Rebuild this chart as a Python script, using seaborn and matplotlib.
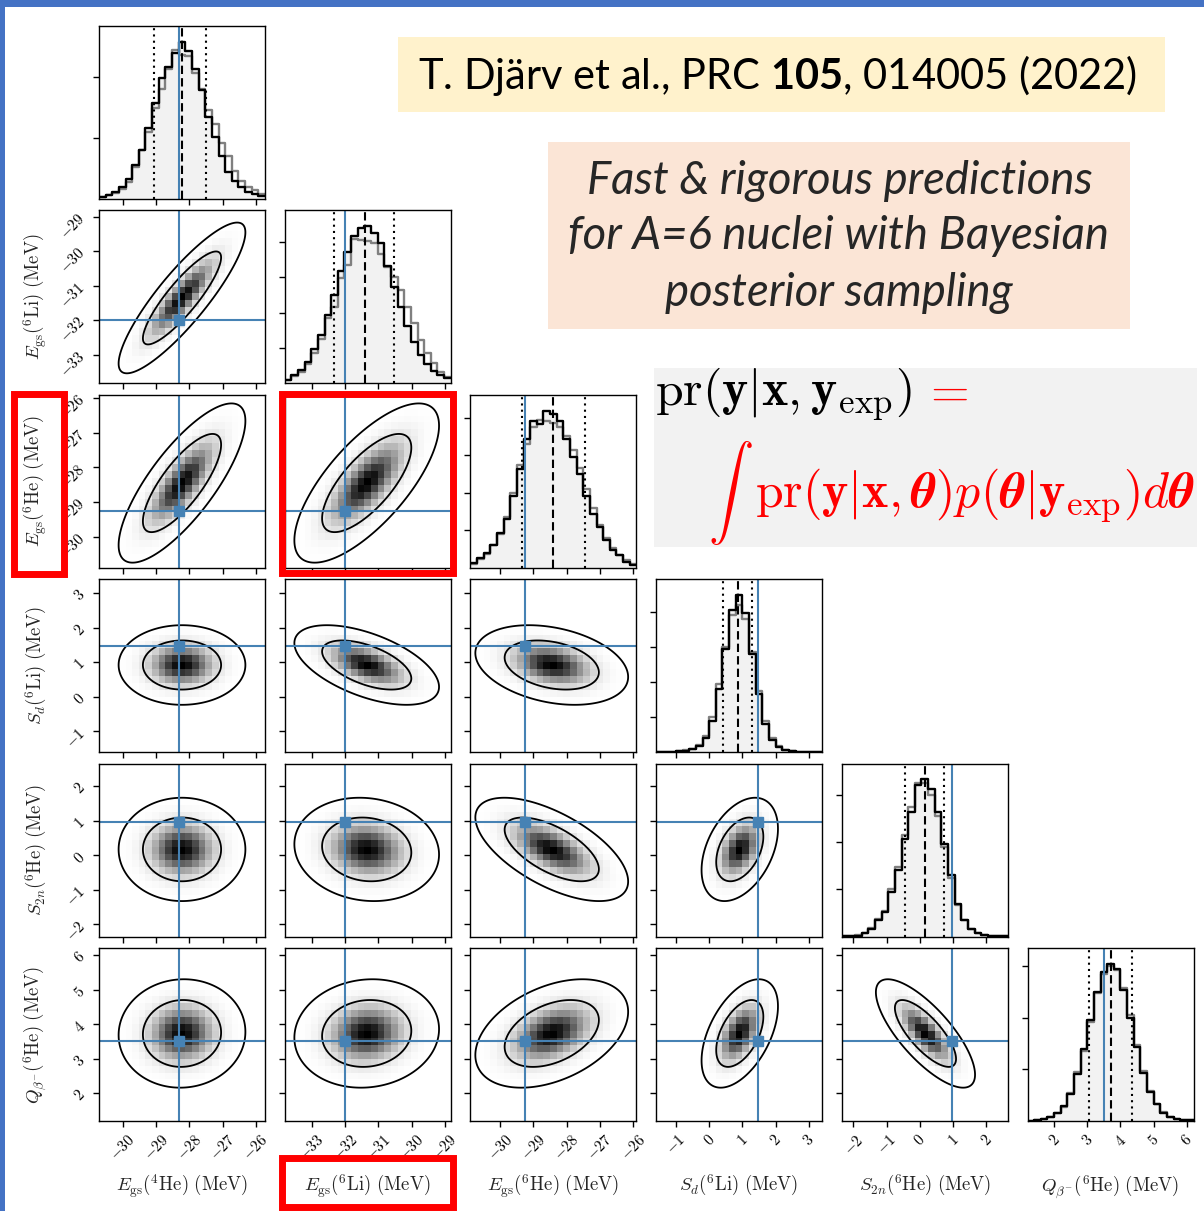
import numpy as np
import pandas as pd
import matplotlib
matplotlib.use("Agg")
import matplotlib.pyplot as plt
import seaborn as sns
from matplotlib.patches import Rectangle
from matplotlib.ticker import MaxNLocator, NullFormatter
from matplotlib.mathtext import MathTextParser

# ------------------------------------------------------------------ data
var_labels = [
    r"$E_{\rm gs}(^{4}\mathrm{He})\ (\mathrm{MeV})$",
    r"$E_{\rm gs}(^{6}\mathrm{Li})\ (\mathrm{MeV})$",
    r"$E_{\rm gs}(^{6}\mathrm{He})\ (\mathrm{MeV})$",
    r"$S_{d}(^{6}\mathrm{Li})\ (\mathrm{MeV})$",
    r"$S_{2n}(^{6}\mathrm{He})\ (\mathrm{MeV})$",
    r"$Q_{\beta^{-}}(^{6}\mathrm{He})\ (\mathrm{MeV})$",
]
axis_ranges = [(-30.72, -25.72), (-33.82, -28.82), (-30.9, -25.9),
               (-1.6, 3.4), (-2.35, 2.65), (1.2, 6.2)]
tick_values = [[-30, -29, -28, -27, -26], [-33, -32, -31, -30, -29],
               [-30, -29, -28, -27, -26], [-1, 0, 1, 2, 3],
               [-2, -1, 0, 1, 2], [2, 3, 4, 5, 6]]
exp_values = [-28.296, -31.994, -29.268, 1.474, 0.975, 3.505]
q16 = [-29.05, -32.35, -29.34, 0.43, -0.44, 3.06]
q50 = [-28.23, -31.41, -28.42, 0.88, 0.16, 3.71]
q84 = [-27.51, -30.54, -27.46, 1.30, 0.73, 4.35]

hist_black_Egs4He = [80, 140, 220, 380, 640, 1100, 1600, 2340, 3160, 3980, 4340, 4800, 5160,
                     4840, 4260, 3560, 2700, 2020, 1420, 900, 600, 380, 240, 160, 100]
hist_gray_Egs4He = [60, 120, 200, 340, 560, 1040, 1600, 2200, 3000, 3600, 4260, 4880, 4720,
                    4680, 4140, 3600, 2920, 2460, 1840, 1420, 920, 600, 400, 280, 160]
hist_black_Egs6Li = [110, 230, 380, 610, 960, 1370, 1940, 2500, 3160, 3700, 4150, 4390, 4440,
                     4250, 3970, 3320, 2720, 2150, 1620, 1180, 800, 550, 350, 240, 140]
hist_gray_Egs6Li = [100, 200, 330, 550, 850, 1250, 1850, 2170, 2970, 3350, 4080, 4060, 4010,
                    3970, 3640, 3300, 3000, 2640, 2150, 1700, 1230, 850, 590, 330, 190]
hist_black_Egs6He = [130, 270, 400, 620, 940, 1290, 1900, 2630, 3430, 3920, 3840, 4190, 4110,
                     3920, 3430, 2950, 2500, 1900, 1420, 1100, 750, 480, 350, 160, 80]
hist_gray_Egs6He = [110, 240, 380, 600, 900, 1350, 2000, 2750, 3300, 3750, 3950, 3900, 3850,
                    3750, 3500, 3150, 2650, 2100, 1600, 1150, 800, 520, 330, 200, 100]
hist_black_Sd = [5, 10, 20, 40, 80, 160, 350, 800, 1800, 3600, 5900, 8100, 8950,
                 7900, 5600, 3300, 1600, 700, 300, 130, 60, 25, 12, 6, 3]
hist_gray_Sd = [5, 10, 25, 50, 100, 200, 420, 900, 2000, 3900, 6000, 7800, 8400,
                7600, 5700, 3500, 1750, 800, 330, 140, 60, 25, 12, 6, 3]
hist_black_S2n = [5, 15, 40, 140, 330, 710, 1040, 1890, 2810, 4160, 5290, 6430, 6670,
                  6240, 5290, 3940, 2600, 1390, 710, 330, 140, 70, 40, 15, 5]
hist_gray_S2n = [5, 20, 50, 160, 360, 760, 1100, 2000, 2950, 4300, 5500, 6500, 6500,
                 6000, 5100, 3800, 2500, 1350, 700, 330, 150, 70, 40, 15, 5]
hist_black_Qb = [10, 20, 60, 160, 320, 580, 1040, 1820, 2780, 3900, 5000, 5780, 6100,
                 5900, 5100, 4000, 2860, 1880, 1140, 640, 320, 160, 80, 40, 20]
hist_gray_Qb = [10, 20, 60, 150, 300, 560, 1080, 1900, 2700, 3850, 4950, 5700, 6000,
                5850, 5150, 4100, 2950, 1950, 1150, 650, 330, 160, 80, 40, 20]

hists_black = [hist_black_Egs4He, hist_black_Egs6Li, hist_black_Egs6He,
               hist_black_Sd, hist_black_S2n, hist_black_Qb]
hists_gray = [hist_gray_Egs4He, hist_gray_Egs6Li, hist_gray_Egs6He,
              hist_gray_Sd, hist_gray_S2n, hist_gray_Qb]

# 2D posterior summaries (centre, width, correlation)
centre_2d = [-28.22, -31.35, -28.45, 0.92, 0.17, 3.73]
sigma_2d = [0.78, 0.89, 0.94, 0.47, 0.61, 0.64]
corr_2d = {
    (1, 0): 0.87,
    (2, 0): 0.78, (2, 1): 0.72,
    (3, 0): 0.0, (3, 1): -0.55, (3, 2): -0.30,
    (4, 0): 0.0, (4, 1): -0.10, (4, 2): -0.62, (4, 3): 0.40,
    (5, 0): 0.03, (5, 1): 0.08, (5, 2): 0.40, (5, 3): 0.50, (5, 4): -0.76,
}
contour_mass = [0.68, 0.95]
n_bins = 25

# ------------------------------------------------------------------ style
sns.set_style("ticks")
plt.rcParams.update({
    "font.family": ["DejaVu Serif"],
    "mathtext.fontset": "cm",
    "mathtext.rm": "Lato",
    "mathtext.it": "Lato:italic",
    "mathtext.bf": "Lato:bold",
    "axes.linewidth": 1.0,
    "axes.edgecolor": "black",
    "xtick.direction": "out",
    "ytick.direction": "out",
    "xtick.major.size": 4.5,
    "ytick.major.size": 4.5,
    "xtick.major.width": 1.0,
    "ytick.major.width": 1.0,
    "xtick.color": "black",
    "ytick.color": "black",
})

TRUTH = "#4682b4"
W, H = 1204, 1211
fig = plt.figure(figsize=(W / 100, H / 100), dpi=100)
fig.patch.set_facecolor("white")


def fx(x):
    return x / W


def fy(y):
    return 1 - y / H


COL_LEFT = [99 + 185.7 * j for j in range(6)]
ROW_TOP = [26 + 184.4 * i for i in range(6)]
AW, AH = 166, 173


def make_ax(i, j):
    return fig.add_axes([fx(COL_LEFT[j]), fy(ROW_TOP[i] + AH), AW / W, AH / H])


def style_ticks(ax, i, j, diag=False):
    ax.set_xlim(axis_ranges[j])
    ax.set_xticks(tick_values[j])
    if i == 5:
        ax.set_xticklabels([f"${t}$" for t in tick_values[j]], rotation=45,
                           fontsize=11)
        ax.set_xlabel(var_labels[j], fontsize=13.5)
        ax.xaxis.set_label_coords(0.5, -0.3)
    else:
        ax.xaxis.set_major_formatter(NullFormatter())
        ax.set_xlabel("")
    if diag:
        ax.yaxis.set_major_locator(MaxNLocator(5, steps=[1, 2, 2.5, 5, 10],
                                               prune="lower"))
        ax.yaxis.set_major_formatter(NullFormatter())
        ax.set_ylabel("")
    else:
        ax.set_ylim(axis_ranges[i])
        ax.set_yticks(tick_values[i])
        if j == 0:
            ax.set_yticklabels([f"${t}$" for t in tick_values[i]], rotation=45,
                               fontsize=11)
            ax.set_ylabel(var_labels[i], fontsize=13.5)
            ax.yaxis.set_label_coords(-0.3, 0.5)
        else:
            ax.yaxis.set_major_formatter(NullFormatter())
            ax.set_ylabel("")
    for s in ax.spines.values():
        s.set_visible(True)
        s.set_linewidth(1.0)


levels_r = [np.sqrt(-2 * np.log(1 - p)) for p in contour_mass]

for i in range(6):
    for j in range(i + 1):
        ax = make_ax(i, j)
        if i == j:
            lo, hi = axis_ranges[i]
            edges = np.linspace(lo, hi, n_bins + 1)
            centres = 0.5 * (edges[1:] + edges[:-1])
            bin_list = [float(e) for e in edges]
            df = pd.DataFrame({"value": centres,
                               "black": np.array(hists_black[i], dtype=float),
                               "gray": np.array(hists_gray[i], dtype=float)})
            sns.histplot(data=df, x="value", weights="black", bins=bin_list,
                         element="step", fill=True, color="#f2f2f2", alpha=1,
                         edgecolor="none", linewidth=0, ax=ax)
            sns.histplot(data=df, x="value", weights="gray", bins=bin_list,
                         element="step", fill=False, color="#808080",
                         linewidth=1.7, ax=ax)
            sns.histplot(data=df, x="value", weights="black", bins=bin_list,
                         element="step", fill=False, color="black",
                         linewidth=1.7, ax=ax)
            ax.axvline(q16[i], color="black", ls=(0, (1, 2)), lw=1.5)
            ax.axvline(q84[i], color="black", ls=(0, (1, 2)), lw=1.5)
            ax.axvline(q50[i], color="black", ls=(0, (4, 2)), lw=1.5)
            ax.axvline(exp_values[i], color=TRUTH, lw=1.5)
            ax.set_ylim(0, 1.1 * df["black"].max())
            style_ticks(ax, i, j, diag=True)
        else:
            xlo, xhi = axis_ranges[j]
            ylo, yhi = axis_ranges[i]
            ex = np.linspace(xlo, xhi, n_bins + 1)
            ey = np.linspace(ylo, yhi, n_bins + 1)
            cx = 0.5 * (ex[1:] + ex[:-1])
            cy = 0.5 * (ey[1:] + ey[:-1])
            rho = corr_2d[(i, j)]
            sx, sy = sigma_2d[j], sigma_2d[i]
            mx, my = centre_2d[j], centre_2d[i]

            def maha(X, Y):
                dx = (X - mx) / sx
                dy = (Y - my) / sy
                return np.sqrt((dx ** 2 - 2 * rho * dx * dy + dy ** 2) / (1 - rho ** 2))

            XX, YY = np.meshgrid(cx, cy)
            dens = np.exp(-0.5 * maha(XX, YY) ** 2)
            ax.pcolormesh(ex, ey, dens ** 2, cmap="gray_r", vmin=0, vmax=1,
                          shading="flat")
            fxg = np.linspace(xlo, xhi, 300)
            fyg = np.linspace(ylo, yhi, 300)
            FX, FY = np.meshgrid(fxg, fyg)
            ax.contour(FX, FY, maha(FX, FY), levels=levels_r, colors="black",
                       linewidths=1.3)
            ax.axvline(exp_values[j], color=TRUTH, lw=1.5)
            ax.axhline(exp_values[i], color=TRUTH, lw=1.5)
            ax.plot([exp_values[j]], [exp_values[i]], marker="s", color=TRUTH,
                    ms=6.5, mec=TRUTH)
            style_ticks(ax, i, j)


# ------------------------------------------------------------------ decorations
def add_rect(x0, y0, x1, y1, **kw):
    r = Rectangle((fx(x0), fy(y1)), (x1 - x0) / W, (y1 - y0) / H,
                  transform=fig.transFigure, **kw)
    fig.add_artist(r)
    return r


# blue slide frame
add_rect(0, 0, W, 7, facecolor="#4472c4", edgecolor="none", zorder=5)
add_rect(0, 0, 5, H, facecolor="#4472c4", edgecolor="none", zorder=5)

# coloured boxes
add_rect(398, 37, 1165, 112, facecolor="#fff2cc", edgecolor="none", zorder=1)
add_rect(548, 142, 1130, 329, facecolor="#fbe5d6", edgecolor="none", zorder=1)
add_rect(654, 368, 1197, 547, facecolor="#f2f2f2", edgecolor="none", zorder=1)

# red highlight frames
for (x0, y0, x1, y1) in [(14, 394, 64, 574), (282, 394, 453, 573), (282, 1158, 453, 1207)]:
    add_rect(x0, y0, x1, y1, facecolor="none", edgecolor="#ff0000", lw=5.0, zorder=6)

renderer = fig.canvas.get_renderer()


def fit_width(t, target):
    bb = t.get_window_extent(renderer)
    t.set_fontsize(t.get_fontsize() * target / bb.width)


def fit_height(t, target):
    bb = t.get_window_extent(renderer)
    t.set_fontsize(t.get_fontsize() * target / bb.height)


ref_str = r"T. Djärv et al., PRC $\mathbf{105}$, 014005 (2022)"
ref = fig.text(fx(778), fy(76), ref_str, family="Lato", math_fontfamily="custom",
               fontsize=28, ha="center", va="center", color="black", zorder=3)
fit_width(ref, 719)

lines2 = ["Fast & rigorous predictions", "for A=6 nuclei with Bayesian",
          "posterior sampling"]
ys2 = [181, 236, 293]
t0 = fig.text(fx(840), fy(ys2[0]), lines2[0], family="Lato", style="italic",
              fontsize=28, ha="center", va="center", zorder=3)
fit_width(t0, 506)
fs2 = t0.get_fontsize()
for s, y in zip(lines2[1:], ys2[1:]):
    fig.text(fx(839), fy(y), s, family="Lato", style="italic", fontsize=fs2,
             ha="center", va="center", zorder=3)

th = r"\boldsymbol{\theta}"
try:
    MathTextParser("path").parse(r"$\boldsymbol{\theta}$")
except Exception:
    th = r"\theta"

f1 = fig.text(fx(655), fy(406), r"$\mathrm{pr}(\mathbf{y}|\mathbf{x},\mathbf{y}_{\mathrm{exp}})$",
              fontsize=30, ha="left", va="baseline", color="black", zorder=3)
fit_width(f1, 257)
fs_f = f1.get_fontsize()
fig.text(fx(922), fy(406), r"$=$", fontsize=fs_f, ha="left", va="baseline",
         color="#ff0000", zorder=3)
integ = fig.text(fx(730), fy(493), r"$\int$", fontsize=40, ha="center", va="center",
                 color="#ff0000", zorder=3)
fit_height(integ, 106)
f2 = fig.text(fx(755), fy(508),
              r"$\mathrm{pr}(\mathbf{y}|\mathbf{x}," + th + r")p(" + th +
              r"|\mathbf{y}_{\mathrm{exp}})d" + th + r"$",
              fontsize=fs_f, ha="left", va="baseline", color="#ff0000", zorder=3)
fit_width(f2, 440)

fig.savefig("out.png", dpi=100, facecolor="white")
